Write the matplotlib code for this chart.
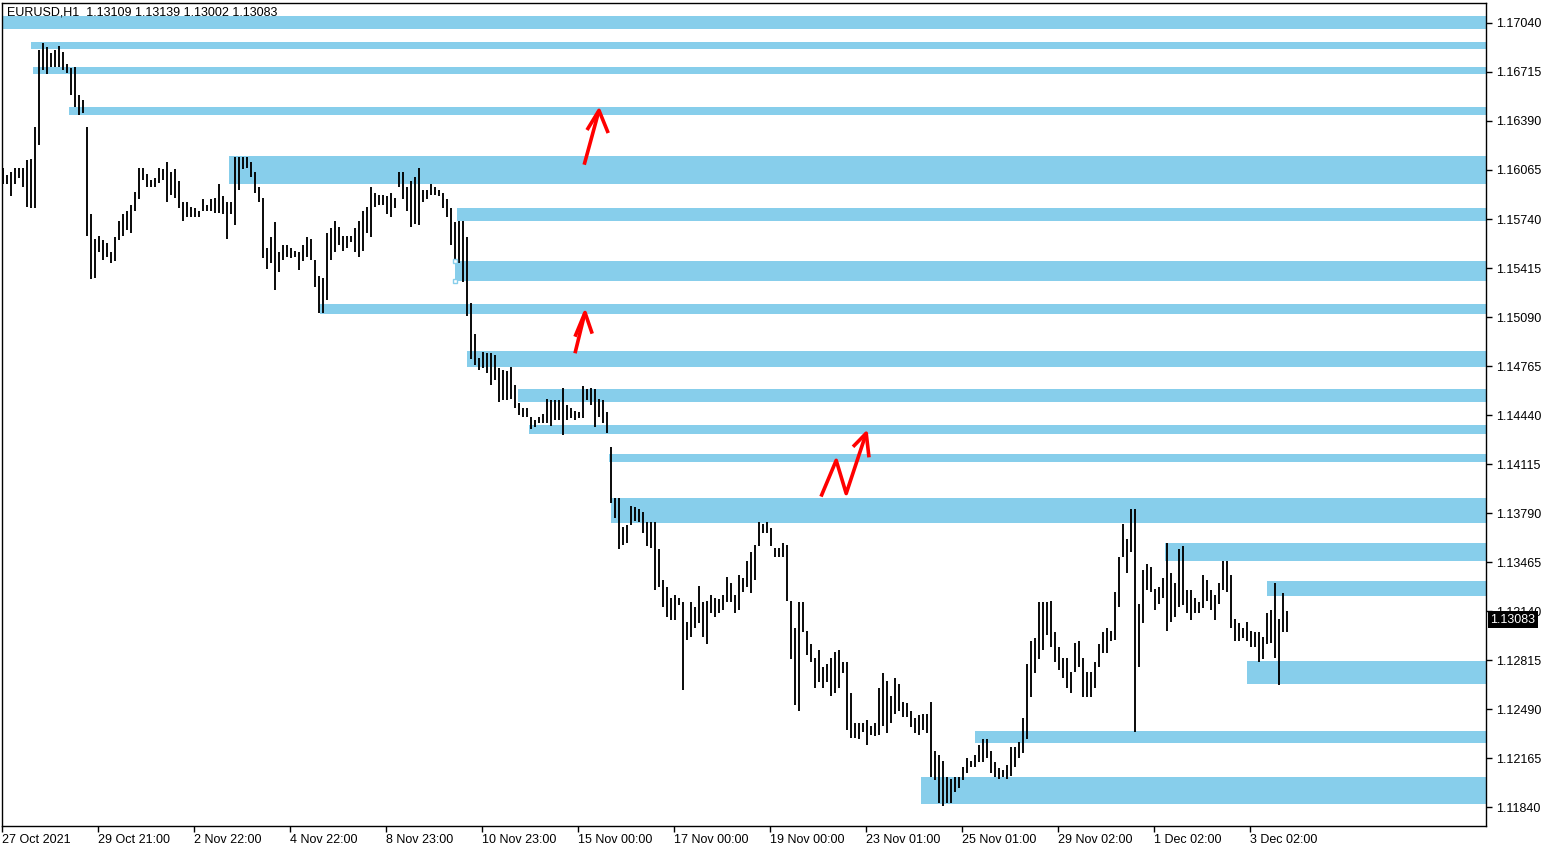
import matplotlib
matplotlib.use("Agg")
from matplotlib import pyplot as plt
from matplotlib.patches import Rectangle
import matplotlib.transforms as mtransforms

# EURUSD H1, shown as 2-hour high/low bars
highs = [
    1.1608, 1.1603, 1.1605, 1.1608, 1.1608, 1.1608, 1.1613, 1.1614, 1.1635, 1.1686,
    1.1691, 1.1688, 1.1684, 1.1686, 1.1689, 1.1685, 1.1677, 1.1674, 1.1675, 1.1656,
    1.1653, 1.1635, 1.1577, 1.1561, 1.1563, 1.1560, 1.1558, 1.1552, 1.1562, 1.1573,
    1.1577, 1.1579, 1.1583, 1.1592, 1.1608, 1.1608, 1.1604, 1.1600, 1.1601, 1.1608,
    1.1607, 1.1612, 1.1605, 1.1607, 1.1599, 1.1585, 1.1585, 1.1582, 1.1581, 1.1579,
    1.1587, 1.1583, 1.1587, 1.1588, 1.1597, 1.1589, 1.1585, 1.1585, 1.1615, 1.1615,
    1.1615, 1.1615, 1.1612, 1.1605, 1.1595, 1.1588, 1.1555, 1.1562, 1.1572, 1.1552,
    1.1557, 1.1557, 1.1555, 1.1553, 1.1552, 1.1557, 1.1562, 1.1561, 1.1547, 1.1536,
    1.1535, 1.1565, 1.1568, 1.1573, 1.1569, 1.1563, 1.1563, 1.1563, 1.1568, 1.1573,
    1.1579, 1.1582, 1.1595, 1.1591, 1.1590, 1.1590, 1.1589, 1.1591, 1.1588, 1.1605,
    1.1605, 1.1595, 1.1599, 1.1602, 1.1608, 1.1593, 1.1593, 1.1597, 1.1595, 1.1593,
    1.1591, 1.1587, 1.1581, 1.1572, 1.1573, 1.1573, 1.1562, 1.1518, 1.1498, 1.1482,
    1.1486, 1.1485, 1.1485, 1.1484, 1.1475, 1.1474, 1.1473, 1.1476, 1.1464, 1.1452,
    1.1449, 1.1449, 1.1443, 1.1441, 1.1443, 1.1445, 1.1455, 1.1454, 1.1454, 1.1454,
    1.1462, 1.1451, 1.1449, 1.1447, 1.1446, 1.1463, 1.1461, 1.1462, 1.1461, 1.1455,
    1.1454, 1.1446, 1.1423, 1.1389, 1.1389, 1.1370, 1.1371, 1.1384, 1.1383, 1.1382,
    1.1380, 1.1373, 1.1373, 1.1373, 1.1355, 1.1335, 1.1330, 1.1323, 1.1325, 1.1323,
    1.1320, 1.1307, 1.1320, 1.1317, 1.1331, 1.1320, 1.1321, 1.1325, 1.1323, 1.1322,
    1.1325, 1.1337, 1.1333, 1.1325, 1.1338, 1.1336, 1.1347, 1.1353, 1.1358, 1.1373,
    1.1372, 1.1373, 1.1369, 1.1356, 1.1356, 1.1359, 1.1358, 1.1321, 1.1303, 1.1320,
    1.1320, 1.1301, 1.1292, 1.1283, 1.1288, 1.1277, 1.1279, 1.1283, 1.1287, 1.1288,
    1.1280, 1.1280, 1.1260, 1.1240, 1.1240, 1.1240, 1.1242, 1.1238, 1.1240, 1.1263,
    1.1273, 1.1268, 1.1258, 1.1270, 1.1266, 1.1254, 1.1253, 1.1248, 1.1243, 1.1245,
    1.1246, 1.1246, 1.1254, 1.1221, 1.1219, 1.1215, 1.1204, 1.1203, 1.1204, 1.1204,
    1.1211, 1.1217, 1.1215, 1.1219, 1.1225, 1.1229, 1.1229, 1.1221, 1.1214, 1.1210,
    1.1209, 1.1212, 1.1224, 1.1224, 1.1227, 1.1243, 1.1279, 1.1294, 1.1296, 1.1320,
    1.1320, 1.1320, 1.1321, 1.1300, 1.1290, 1.1283, 1.1283, 1.1274, 1.1293, 1.1294,
    1.1283, 1.1274, 1.1274, 1.1280, 1.1292, 1.1300, 1.1303, 1.1301, 1.1327, 1.1350,
    1.1372, 1.1362, 1.1382, 1.1382, 1.1319, 1.1341, 1.1345, 1.1343, 1.1329, 1.1330,
    1.1336, 1.1359, 1.1339, 1.1333, 1.1355, 1.1357, 1.1328, 1.1328, 1.1323, 1.1320,
    1.1338, 1.1335, 1.1328, 1.1325, 1.1333, 1.1347, 1.1347, 1.1338, 1.1309, 1.1306,
    1.1303, 1.1307, 1.1301, 1.1300, 1.1300, 1.1297, 1.1313, 1.1315, 1.1333, 1.1309,
    1.1326, 1.1314,
]
lows = [
    1.1597, 1.1597, 1.1589, 1.1597, 1.1601, 1.1595, 1.1582, 1.1581, 1.1581, 1.1623,
    1.1673, 1.1670, 1.1675, 1.1675, 1.1675, 1.1673, 1.1671, 1.1656, 1.1648, 1.1643,
    1.1644, 1.1563, 1.1534, 1.1535, 1.1552, 1.1547, 1.1549, 1.1545, 1.1546, 1.1560,
    1.1563, 1.1567, 1.1565, 1.1579, 1.1587, 1.1600, 1.1595, 1.1595, 1.1595, 1.1598,
    1.1600, 1.1585, 1.1590, 1.1588, 1.1581, 1.1573, 1.1575, 1.1575, 1.1575, 1.1575,
    1.1579, 1.1579, 1.1579, 1.1578, 1.1578, 1.1577, 1.1561, 1.1577, 1.1570, 1.1593,
    1.1607, 1.1608, 1.1602, 1.1591, 1.1585, 1.1548, 1.1541, 1.1545, 1.1527, 1.1539,
    1.1547, 1.1549, 1.1548, 1.1549, 1.1540, 1.1546, 1.1549, 1.1547, 1.1529, 1.1512,
    1.1512, 1.1520, 1.1547, 1.1552, 1.1557, 1.1553, 1.1555, 1.1559, 1.1552, 1.1549,
    1.1553, 1.1565, 1.1562, 1.1582, 1.1583, 1.1583, 1.1577, 1.1575, 1.1581, 1.1595,
    1.1587, 1.1579, 1.1569, 1.1571, 1.1570, 1.1585, 1.1587, 1.1590, 1.1590, 1.1589,
    1.1581, 1.1575, 1.1557, 1.1546, 1.1545, 1.1532, 1.1510, 1.1481, 1.1477, 1.1474,
    1.1475, 1.1472, 1.1464, 1.1467, 1.1453, 1.1454, 1.1454, 1.1455, 1.1449, 1.1444,
    1.1443, 1.1443, 1.1435, 1.1436, 1.1439, 1.1439, 1.1439, 1.1437, 1.1441, 1.1441,
    1.1431, 1.1441, 1.1442, 1.1441, 1.1442, 1.1442, 1.1454, 1.1451, 1.1436, 1.1443,
    1.1439, 1.1432, 1.1386, 1.1376, 1.1355, 1.1358, 1.1359, 1.1371, 1.1374, 1.1373,
    1.1366, 1.1357, 1.1356, 1.1328, 1.1330, 1.1317, 1.1310, 1.1308, 1.1308, 1.1318,
    1.1262, 1.1295, 1.1297, 1.1303, 1.1306, 1.1297, 1.1292, 1.1313, 1.1310, 1.1313,
    1.1315, 1.1320, 1.1320, 1.1313, 1.1315, 1.1327, 1.1330, 1.1326, 1.1335, 1.1357,
    1.1366, 1.1366, 1.1357, 1.1350, 1.1350, 1.1350, 1.1321, 1.1282, 1.1252, 1.1248,
    1.1300, 1.1285, 1.1280, 1.1263, 1.1267, 1.1263, 1.1267, 1.1258, 1.1260, 1.1263,
    1.1273, 1.1235, 1.1230, 1.1230, 1.1229, 1.1234, 1.1225, 1.1232, 1.1231, 1.1232,
    1.1238, 1.1233, 1.1240, 1.1246, 1.1248, 1.1244, 1.1244, 1.1237, 1.1233, 1.1232,
    1.1235, 1.1233, 1.1204, 1.1202, 1.1187, 1.1185, 1.1187, 1.1187, 1.1194, 1.1197,
    1.1202, 1.1207, 1.1211, 1.1211, 1.1214, 1.1214, 1.1217, 1.1207, 1.1204, 1.1203,
    1.1204, 1.1203, 1.1205, 1.1211, 1.1217, 1.1220, 1.1229, 1.1257, 1.1273, 1.1282,
    1.1288, 1.1298, 1.1290, 1.1280, 1.1275, 1.1270, 1.1263, 1.1260, 1.1274, 1.1277,
    1.1257, 1.1257, 1.1257, 1.1263, 1.1277, 1.1286, 1.1286, 1.1294, 1.1295, 1.1317,
    1.1350, 1.1339, 1.1353, 1.1234, 1.1277, 1.1306, 1.1328, 1.1327, 1.1315, 1.1319,
    1.1323, 1.1301, 1.1307, 1.1310, 1.1317, 1.1318, 1.1313, 1.1308, 1.1313, 1.1313,
    1.1316, 1.1321, 1.1315, 1.1308, 1.1319, 1.1328, 1.1327, 1.1303, 1.1294, 1.1294,
    1.1296, 1.1294, 1.1290, 1.1290, 1.1280, 1.1282, 1.1292, 1.1293, 1.1283, 1.1265,
    1.1300, 1.1300,
]

# support / resistance zones: first bar, top price, bottom price
zone_start = [-1, 7, 7.5, 16.5, 56.5, 113.5, 113, 79.25, 116, 128.75,
              131.5, 151.5, 152, 290.5, 316, 311, 243, 229.5]
zone_top = [1.17086, 1.16914, 1.16748, 1.16483, 1.16158, 1.15813, 1.15462, 1.15176, 1.14865, 1.14613,
            1.14374, 1.14182, 1.13890, 1.13592, 1.13340, 1.12810, 1.12345, 1.12040]
zone_bottom = [1.17000, 1.16867, 1.16701, 1.16430, 1.15972, 1.15727, 1.15329, 1.15110, 1.14759, 1.14527,
               1.14315, 1.14129, 1.13724, 1.13473, 1.13241, 1.12657, 1.12266, 1.11861]

# hand drawn red arrows (bar index, price)
arrows = [
    [(145.3, 1.1610), (149.0, 1.1646)],
    [(146.0, 1.1633), (149.0, 1.1646), (151.3, 1.1631)],
    [(143.0, 1.1485), (145.5, 1.1512)],
    [(143.0, 1.1496), (145.5, 1.1512), (147.3, 1.1498)],
    [(204.5, 1.1390), (208.3, 1.1414), (210.8, 1.1392), (215.8, 1.1432)],
    [(212.5, 1.1423), (215.8, 1.1432), (216.5, 1.1416)],
]

x_labels = ["27 Oct 2021", "29 Oct 21:00", "2 Nov 22:00", "4 Nov 22:00", "8 Nov 23:00",
            "10 Nov 23:00", "15 Nov 00:00", "17 Nov 00:00", "19 Nov 00:00", "23 Nov 01:00",
            "25 Nov 01:00", "29 Nov 02:00", "1 Dec 02:00", "3 Dec 02:00"]
y_ticks = [1.11840, 1.12165, 1.12490, 1.12815, 1.13140, 1.13465, 1.13790, 1.14115, 1.14440,
           1.14765, 1.15090, 1.15415, 1.15740, 1.16065, 1.16390, 1.16715, 1.17040]
last_price = 1.13083
header = "EURUSD,H1  1.13109 1.13139 1.13002 1.13083"

plt.rcParams['font.family'] = ['Liberation Sans', 'DejaVu Sans']
zone_color = '#87CEEB'
fsize = 9

fig = plt.figure(figsize=(15.5, 8.5), dpi=100)
ax = fig.add_axes([2 / 1550, 24 / 850, 1484 / 1550, 823 / 850])

x_min, x_max = -0.25, 370.75
ax.set_xlim(x_min, x_max)
ax.set_ylim(1.11716, 1.17172)

# zones go behind the bars
for s, t, b in zip(zone_start, zone_top, zone_bottom):
    ax.add_patch(Rectangle((s, b), x_max + 5 - s, t - b, facecolor=zone_color,
                           edgecolor='none', zorder=1))

# selected rectangle handles
ax.plot([zone_start[6], zone_start[6]], [zone_top[6], zone_bottom[6]], linestyle='none',
        marker='s', markersize=3.5, markerfacecolor='white', markeredgecolor=zone_color,
        markeredgewidth=1, zorder=3)

idx = list(range(len(highs)))
ax.vlines(idx, lows, highs, color='black', linewidth=1.35, zorder=2)

for pts in arrows:
    xs = [p[0] for p in pts]
    ys = [p[1] for p in pts]
    ax.plot(xs, ys, color='red', linewidth=2.6, solid_capstyle='butt', zorder=4)

# axes styling like the terminal
for sp in ax.spines.values():
    sp.set_color('black')
    sp.set_linewidth(1)

ax.yaxis.tick_right()
ax.set_yticks(y_ticks)
ax.set_yticklabels(["%.5f" % v for v in y_ticks])
ax.tick_params(axis='y', direction='out', length=4, width=1, pad=3, labelsize=fsize, colors='black')

ax.set_xticks([x_min + 24 * k for k in range(len(x_labels))])
ax.set_xticklabels(x_labels)
for lab in ax.get_xticklabels():
    lab.set_horizontalalignment('left')
ax.tick_params(axis='x', direction='out', length=4, width=1, pad=2, labelsize=fsize, colors='black')

# current price tag
trans = mtransforms.blended_transform_factory(ax.transAxes, ax.transData)
ax.text(1.003, last_price, "%.5f" % last_price, transform=trans, color='white',
        fontsize=fsize, va='center', ha='left', clip_on=False, zorder=10,
        bbox=dict(boxstyle='square,pad=0.2', facecolor='black', edgecolor='none'))

ax.text(0.0034, 0.996, header, transform=ax.transAxes, fontsize=fsize, va='top', ha='left',
        color='black', zorder=6)

plt.savefig("out.png", dpi=100)
